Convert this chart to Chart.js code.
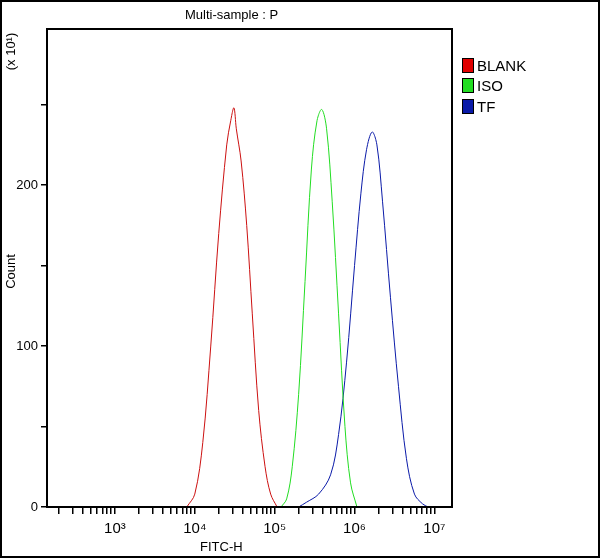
<!DOCTYPE html>
<html><head><meta charset="utf-8">
<script src="https://cdn.jsdelivr.net/npm/chart.js@4"></script>
<style>
html,body{margin:0;padding:0;background:#fff;}
#wrap{position:relative;width:600px;height:558px;box-sizing:border-box;border:2px solid #000;overflow:hidden;}
canvas{position:absolute;left:0;top:0;}
.t{position:absolute;font-family:"Liberation Sans",sans-serif;font-size:13px;color:#000;white-space:nowrap;}
.lg{position:absolute;left:460px;font-family:"Liberation Sans",sans-serif;font-size:15px;}
.lg span{display:inline-block;width:10px;height:13px;border:1px solid #000;vertical-align:-2px;margin-right:3px;}
</style></head><body>
<div id="wrap">
<canvas id="c" width="600" height="558"></canvas>
<div class="t" style="left:183px;top:5px;">Multi-sample : P</div>
<div class="t" style="left:-10px;top:42px;transform:rotate(-90deg);">(x 10¹)</div>
<div class="t" style="left:-9px;top:262px;transform:rotate(-90deg);">Count</div>
<div class="t" style="left:198px;top:537px;">FITC-H</div>
<div class="lg" style="top:55px;"><span style="background:#e00000"></span>BLANK</div>
<div class="lg" style="top:75px;"><span style="background:#22dd22"></span>ISO</div>
<div class="lg" style="top:96px;"><span style="background:#0a1aa8"></span>TF</div>
</div>
<script>
const blankX=[3.90,4.00,4.10,4.20,4.30,4.40,4.45,4.49,4.52,4.58,4.65,4.72,4.80,4.88,4.95,5.03];
const blankY=[0,8,40,100,170,225,240,248,235,215,175,120,60,25,8,0];
const isoX=[5.08,5.15,5.22,5.30,5.38,5.46,5.53,5.59,5.65,5.72,5.80,5.88,5.95,6.03];
const isoY=[0,5,25,70,140,210,240,247,235,190,120,50,15,0];
const tfX=[5.30,5.40,5.55,5.70,5.80,5.90,6.00,6.08,6.15,6.22,6.28,6.35,6.45,6.55,6.65,6.75,6.85,6.92];
const tfY=[0,3,8,20,45,90,150,195,222,233,225,190,130,75,30,8,2,0];
const decades=[3,4,5,6,7];
const yTicks=[0,50,100,150,200,250];
const yLabels={0:"0",100:"100",200:"200"};
const sup={3:"³",4:"⁴",5:"⁵",6:"⁶",7:"⁷"};
const pts=(xs,ys)=>xs.map((x,i)=>({x,y:ys[i]}));
const xTickVals=[];
for(let d=2;d<=7;d++){for(let m=1;m<=9;m++){const v=d+Math.log10(m);if(v>=2.15&&v<=7.22)xTickVals.push(v);}}
const box={id:'box',afterDraw(c){const a=c.chartArea,g=c.ctx;g.save();g.strokeStyle='#000';g.lineWidth=2;g.strokeRect(a.left,a.top,a.right-a.left,a.bottom-a.top);g.restore();}};
const ds=(l,d,col)=>({label:l,data:d,borderColor:col,borderWidth:1,pointRadius:0,tension:0.35,fill:false});
new Chart(document.getElementById('c'),{type:'line',
data:{datasets:[ds('BLANK',pts(blankX,blankY),'#cc1010'),ds('ISO',pts(isoX,isoY),'#22dd22'),ds('TF',pts(tfX,tfY),'#0a1aa8')]},
options:{responsive:false,animation:false,layout:{padding:{left:0,right:150,top:27,bottom:0}},
plugins:{legend:{display:false},tooltip:{enabled:false}},
scales:{
x:{type:'linear',min:2.15,max:7.22,afterFit(s){s.height=53;},
afterBuildTicks(s){s.ticks=xTickVals.map(v=>({value:v}));},
grid:{drawOnChartArea:false,tickLength:7,color:'#000',lineWidth:1.5},border:{color:'#000',width:2},
ticks:{autoSkip:false,maxRotation:0,color:'#000',font:{family:'Liberation Sans',size:15},padding:6,
callback(v){const r=Math.round(v);return Math.abs(v-r)<1e-6&&decades.includes(r)?'10'+sup[r]:'';}}},
y:{min:0,max:297,afterFit(s){s.width=45;},
afterBuildTicks(s){s.ticks=yTicks.map(v=>({value:v}));},
grid:{drawOnChartArea:false,tickLength:6,color:'#000',lineWidth:1.5},border:{color:'#000',width:2},
ticks:{color:'#000',font:{family:'Liberation Sans',size:13},padding:3,callback(v){return yLabels[v]||'';}}}
}},plugins:[box]});
</script></body></html>
